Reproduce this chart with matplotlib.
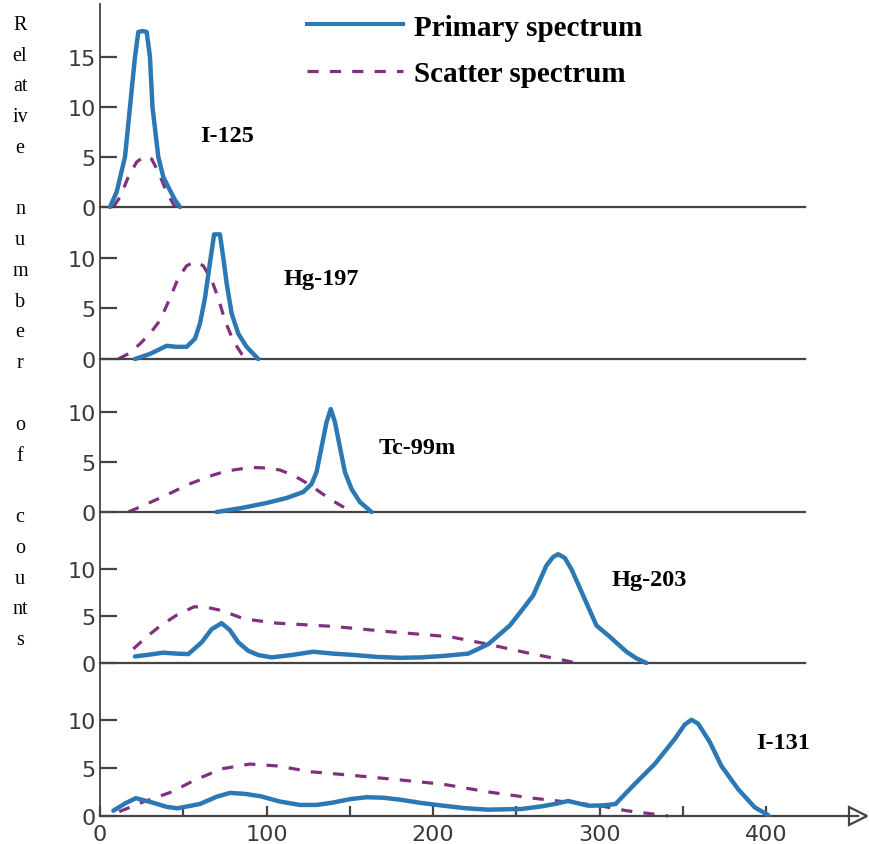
## Primary and scatter energy spectra for five radionuclides (stacked panels).

import matplotlib
matplotlib.use('Agg')
import matplotlib.pyplot as plt

## spectra: (energy keV, relative counts)
i125_E = [6, 10, 15, 18, 21, 23, 25.5, 28, 30, 31.5, 35, 38, 41, 45, 48]
i125_p = [0, 1.5, 5, 10, 15, 17.5, 17.6, 17.5, 15, 10, 5, 3, 2, 0.7, 0]
i125_sE = [8, 12, 17, 22, 27, 31, 35, 40, 45]
i125_s = [0, 1, 3, 4.5, 5.1, 4.8, 3.5, 1.5, 0]

hg197_E = [21, 30, 40, 46, 52, 57, 60, 63, 66, 68.5, 72, 74, 76, 79, 83, 88, 95]
hg197_p = [0, 0.5, 1.3, 1.2, 1.2, 2, 3.5, 6, 9.5, 12.3, 12.3, 10, 7.5, 4.5, 2.5, 1.2, 0]
hg197_sE = [11, 18, 24, 30, 36, 42, 47, 52, 57, 62, 67, 71, 75, 80, 85, 88]
hg197_s = [0, 0.6, 1.5, 2.5, 3.8, 6, 8, 9.2, 9.6, 9.2, 7.8, 6, 3.8, 1.8, 0.5, 0]

tc99m_E = [70, 85, 100, 112, 122, 127, 130, 133, 136, 138.5, 141, 144, 147, 151, 156, 163]
tc99m_p = [0, 0.4, 0.9, 1.4, 2, 2.8, 4, 6.5, 9, 10.3, 9, 6.5, 4, 2.3, 1, 0]
tc99m_sE = [17, 28, 36, 45, 52, 60, 68, 76, 84, 92, 100, 108, 114, 120, 126, 132, 138, 145, 152]
tc99m_s = [0, 0.8, 1.4, 2.1, 2.7, 3.2, 3.7, 4.1, 4.3, 4.45, 4.4, 4.2, 3.8, 3.3, 2.7, 2, 1.3, 0.6, 0]

hg203_E = [21, 30, 38, 46, 53, 61, 67, 73, 78, 83, 89, 95, 103, 115, 128, 140, 153, 166, 180,
           193, 206, 221, 233, 246, 254, 260, 265, 268, 272, 275, 279, 283, 290, 298, 306, 316,
           322, 328]
hg203_p = [0.7, 0.9, 1.1, 1.0, 0.95, 2.2, 3.6, 4.25, 3.5, 2.2, 1.3, 0.85, 0.6, 0.85, 1.2, 1.0,
           0.85, 0.65, 0.55, 0.6, 0.75, 1.0, 2.0, 4.0, 5.8, 7.2, 9.2, 10.4, 11.3, 11.6, 11.2, 10,
           7.2, 4.0, 2.8, 1.2, 0.5, 0]
hg203_sE = [20, 28, 36.5, 46, 56.5, 65, 73, 86.5, 106, 140, 176, 210, 233, 256, 270, 281, 285]
hg203_s = [1.5, 2.8, 4.0, 5.1, 6.0, 5.9, 5.6, 4.7, 4.25, 3.9, 3.3, 2.8, 2.0, 1.1, 0.6, 0.2, 0]

i131_E = [8, 15, 21.5, 31.5, 40, 46.5, 60, 70, 78, 87, 96.5, 108, 120, 130, 140, 150, 160, 170,
          180, 193, 206, 220, 233, 253, 265, 273, 281, 293, 302, 309.5, 320, 333, 345, 351,
          355, 359, 366, 373, 383, 393, 401]
i131_p = [0.55, 1.3, 1.85, 1.4, 0.95, 0.8, 1.25, 2.0, 2.4, 2.3, 2.05, 1.5, 1.15, 1.15, 1.4, 1.75,
          1.95, 1.9, 1.7, 1.35, 1.07, 0.8, 0.66, 0.73, 1.0, 1.25, 1.56, 1.07, 1.1, 1.25, 3.15, 5.4,
          8.0, 9.5, 10.0, 9.6, 7.7, 5.2, 2.8, 0.9, 0.1]
i131_sE = [11.5, 25, 43, 56.5, 73, 90, 106.5, 126.5, 153, 180, 206, 233, 260, 283, 300, 316, 330, 341]
i131_s = [0.45, 1.4, 2.5, 3.7, 4.9, 5.4, 5.2, 4.6, 4.2, 3.75, 3.3, 2.5, 1.85, 1.4, 1.07, 0.55, 0.25, 0]

names = ['I-125', 'Hg-197', 'Tc-99m', 'Hg-203', 'I-131']
prim_E = [i125_E, hg197_E, tc99m_E, hg203_E, i131_E]
prim_y = [i125_p, hg197_p, tc99m_p, hg203_p, i131_p]
scat_E = [i125_sE, hg197_sE, tc99m_sE, hg203_sE, i131_sE]
scat_y = [i125_s, hg197_s, tc99m_s, hg203_s, i131_s]
ytick_sets = [[0, 5, 10, 15], [0, 5, 10], [0, 5, 10], [0, 5, 10], [0, 5, 10]]
label_pos = [(60, 7.1), (110, 7.9), (167, 6.4), (307, 8.9), (394, 7.6)]

## panel geometry in pixels (top, baseline) and y ranges
W, H = 869, 845
panel_px = [(5, 208), (208, 360), (360, 513), (513, 664), (664, 817)]
ytops = [20.3, 15.0, 15.3, 16.1, 15.9]
x0_px, x1_px = 100, 858
xmax = 455
base_end = 423

blue = '#2b78b4'
purple = '#80307f'
axcol = '#444444'
tickfont = dict(family='DejaVu Sans', size=16, color='#3a3a3a')

fig = plt.figure(figsize=(W / 100, H / 100), dpi=100)
axes = []
for i in range(5):
  top, bot = panel_px[i]
  ax = fig.add_axes([x0_px / W, 1 - bot / H, (x1_px - x0_px) / W, (bot - top) / H])
  ax.set_xlim(0, xmax)
  ax.set_ylim(0, ytops[i])
  ax.plot(prim_E[i], prim_y[i], color=blue, linewidth=3.2, solid_capstyle='round',
          solid_joinstyle='round', clip_on=False, zorder=3)
  ax.plot(scat_E[i], scat_y[i], color=purple, linewidth=2.3, dashes=(3.5, 3.5),
          clip_on=False, zorder=2)
  ax.text(label_pos[i][0], label_pos[i][1], names[i], family='Liberation Serif',
          fontweight='bold', fontsize=17.5, va='center', ha='left')
  for s in ['top', 'right']:
    ax.spines[s].set_visible(False)
  ax.spines['left'].set_color(axcol)
  ax.spines['left'].set_linewidth(1.3)
  ax.spines['bottom'].set_color(axcol)
  ax.spines['bottom'].set_linewidth(1.6)
  ax.set_yticks(ytick_sets[i])
  ax.set_yticklabels([str(v) for v in ytick_sets[i]], fontdict=tickfont)
  ax.tick_params(axis='y', direction='in', length=12, width=1.6, color=axcol, pad=3)
  if i < 4:
    ax.spines['bottom'].set_bounds(0, base_end)
    ax.set_xticks([])
  else:
    ax.set_xticks([0, 100, 200, 300, 400])
    ax.set_xticks([50, 150, 250, 350], minor=True)
    ax.set_xticklabels(['0', '100', '200', '300', '400'], fontdict=tickfont)
    ax.tick_params(axis='x', which='both', direction='in', length=7, width=1.6,
                   color=axcol, pad=6)
    ax.plot(1, 0, '>', transform=ax.get_yaxis_transform(), clip_on=False,
            markersize=13, mfc='white', mec=axcol, mew=1.6)
  ax.patch.set_alpha(0)
  axes.append(ax)

## legend
h1, = axes[0].plot([], [], color=blue, linewidth=3)
h2, = axes[0].plot([], [], color=purple, linewidth=2.3, dashes=(3.5, 3.5))
fig.legend([h1, h2], ['Primary spectrum', 'Scatter spectrum'], loc='upper left',
           bbox_to_anchor=(292 / W, 1.0), frameon=False, borderpad=0,
           handlelength=3.3, handletextpad=0.4, labelspacing=0.68,
           prop=dict(family='Liberation Serif', weight='bold', size=21))

## stacked y label
ylab = ['R', 'el', 'at', 'iv', 'e', '', 'n', 'u', 'm', 'b', 'e', 'r', '', 'o', 'f', '',
        'c', 'o', 'u', 'nt', 's']
fig.text(20 / W, 1 - 333 / H, '\n'.join(ylab), ha='center', va='center',
         family='Liberation Serif', fontsize=14.5, linespacing=1.84)

plt.savefig('out.png', dpi=100)
